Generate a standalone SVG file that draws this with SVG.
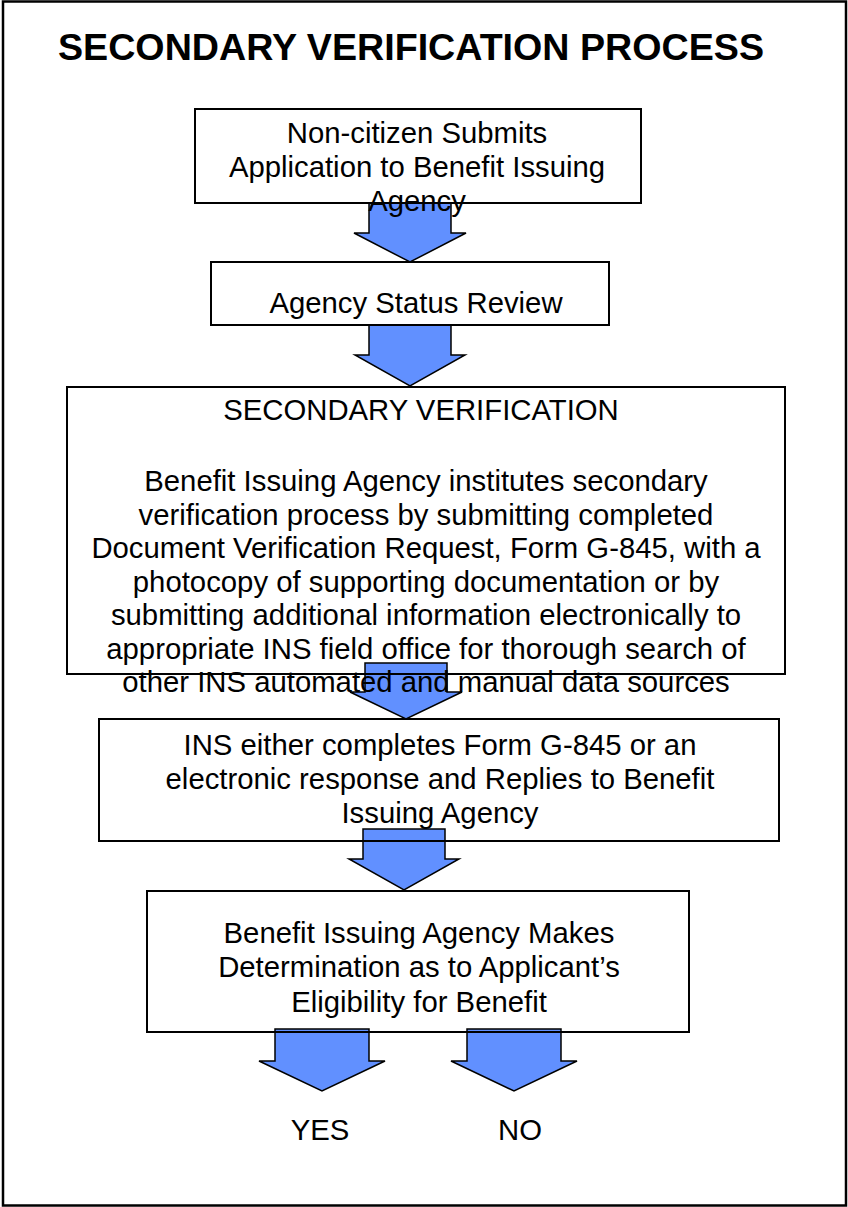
<svg xmlns="http://www.w3.org/2000/svg" width="848" height="1207" viewBox="0 0 848 1207">
  <style>
    .frame { fill: none; stroke: #000; stroke-width: 2.5; }
    .box { fill: none; stroke: #000; stroke-width: 2; }
    .arrow { fill: #6190FF; stroke: #000; stroke-width: 1.5; stroke-linejoin: miter; }
    .title { font-family: "Liberation Sans", Arial, sans-serif; font-weight: bold; font-size: 37.3px; fill: #000; }
    .txt { font-family: "Liberation Sans", Arial, sans-serif; font-size: 29.3px; fill: #000; text-anchor: middle; }
  </style>
  <rect width="848" height="1207" fill="#fff"/>
  <rect class="frame" x="3" y="1.5" width="843" height="1204"/>

  <text id="title" class="title" x="58" y="60" textLength="706" lengthAdjust="spacingAndGlyphs">SECONDARY VERIFICATION PROCESS</text>

  <!-- block arrows between steps (drawn beneath box outlines and labels) -->
  <g id="connectors">
    <polygon class="arrow" points="369,203 451,203 451,233 466,233 410,262 354,233 369,233"/>
    <polygon class="arrow" points="369,325 451,325 451,355 465,355 410,386 355,355 369,355"/>
    <polygon class="arrow" points="365,663 447,663 447,692 462,692 406,719 350,692 365,692"/>
    <polygon class="arrow" points="363,829 445,829 445,859 459,859 404,890 349,859 363,859"/>
    <polygon class="arrow" points="275,1029 369,1029 369,1061 385,1061 322,1091 259,1061 275,1061"/>
    <polygon class="arrow" points="467,1029 561,1029 561,1061 577,1061 514,1091 451,1061 467,1061"/>
  </g>

  <g id="apply">
    <rect class="box" x="195" y="109" width="446" height="94"/>
    <text class="txt" x="417" y="143">Non-citizen Submits</text>
    <text class="txt" x="417" y="177">Application to Benefit Issuing</text>
    <text class="txt" x="417" y="211">Agency</text>
  </g>

  <g id="status-review">
    <rect class="box" x="211" y="262" width="398" height="63"/>
    <text class="txt" x="416" y="313">Agency Status Review</text>
  </g>

  <g id="secondary-verification">
    <rect class="box" x="67" y="387" width="718" height="287"/>
    <text class="txt" x="421" y="420">SECONDARY VERIFICATION</text>
    <text class="txt" x="426" y="491">Benefit Issuing Agency institutes secondary</text>
    <text class="txt" x="426" y="524.5">verification process by submitting completed</text>
    <text class="txt" x="426" y="558">Document Verification Request, Form G-845, with a</text>
    <text class="txt" x="426" y="591.5">photocopy of supporting documentation or by</text>
    <text class="txt" x="426" y="625">submitting additional information electronically to</text>
    <text class="txt" x="426" y="658.5">appropriate INS field office for thorough search of</text>
    <text class="txt" x="426" y="692">other INS automated and manual data sources</text>
  </g>

  <g id="ins-reply">
    <rect class="box" x="99" y="719" width="680" height="122"/>
    <text class="txt" x="440" y="755">INS either completes Form G-845 or an</text>
    <text class="txt" x="440" y="789">electronic response and Replies to Benefit</text>
    <text class="txt" x="440" y="823">Issuing Agency</text>
  </g>

  <g id="determination">
    <rect class="box" x="147" y="891" width="542" height="141"/>
    <text class="txt" x="419" y="943">Benefit Issuing Agency Makes</text>
    <text class="txt" x="419" y="977">Determination as to Applicant’s</text>
    <text class="txt" x="419" y="1012">Eligibility for Benefit</text>
  </g>

  <g id="outcome-yes">
    <text class="txt" x="320" y="1140">YES</text>
  </g>
  <g id="outcome-no">
    <text class="txt" x="520" y="1140">NO</text>
  </g>
</svg>
